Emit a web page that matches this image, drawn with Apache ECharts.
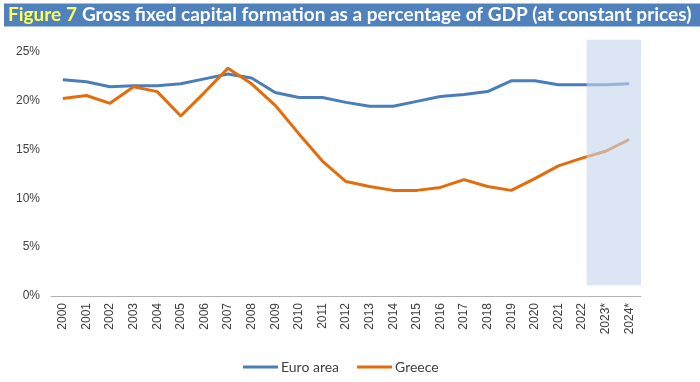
<!DOCTYPE html>
<html>
<head>
<meta charset="utf-8">
<script src="https://cdn.jsdelivr.net/npm/echarts@6/dist/echarts.min.js"></script>
<style>
html,body{margin:0;padding:0;background:#fff;}
#chart{width:700px;height:382px;}
</style>
</head>
<body>
<div id="chart"></div>
<script>
const years = ['2000','2001','2002','2003','2004','2005','2006','2007','2008','2009','2010','2011','2012','2013','2014','2015','2016','2017','2018','2019','2020','2021','2022','2023*','2024*'];
const euroArea = [22.1,21.9,21.4,21.5,21.5,21.7,22.2,22.7,22.3,20.8,20.3,20.3,19.8,19.4,19.4,19.9,20.4,20.6,20.9,22.0,22.0,21.6,21.6,21.6,21.7];
const greece = [20.2,20.5,19.7,21.4,20.9,18.4,20.8,23.3,21.7,19.5,16.6,13.8,11.7,11.2,10.8,10.8,11.1,11.9,11.2,10.8,12.0,13.3,14.1,14.8,16.0];
const yTicks = [0,5,10,15,20,25];
const shadeX = [22.2, 24.5];
const shadeY = [1.1, 26.2];

const chart = echarts.init(document.getElementById('chart'), null, {renderer:'canvas'});
chart.setOption({
  animation:false,
  backgroundColor:'#fff',
  title:{
    text:'{a|Figure 7} {b|Gross fixed capital formation as a percentage of GDP (at constant prices)}',
    left:4, top:3,
    backgroundColor:'#4F81BD',
    padding:[2,24,2,4],
    textStyle:{
      rich:{
        a:{color:'#FFFF5A',fontFamily:'Lato',fontWeight:'bold',fontSize:19,lineHeight:20},
        b:{color:'#ffffff',fontFamily:'Lato',fontWeight:'bold',fontSize:19,lineHeight:20}
      }
    }
  },
  grid:{left:51,right:59,top:296-26.2*9.78,bottom:86,containLabel:false},
  legend:{
    data:['Euro area','Greece'],
    bottom:3,left:238,
    itemWidth:35,itemHeight:3,itemGap:18,
    textStyle:{fontFamily:'Lato',fontSize:14,color:'#404040',padding:[0,0,0,-2]},
    icon:'rect'
  },
  xAxis:[{
    type:'category',data:years,boundaryGap:true,
    axisLine:{lineStyle:{color:'#B3B3B3',width:1}},
    axisTick:{show:false},
    axisLabel:{rotate:90,interval:0,fontFamily:'Liberation Sans',fontSize:12,color:'#404040',margin:7}
  },{
    type:'value',min:-0.5,max:24.5,show:false
  }],
  yAxis:{
    type:'value',min:0,max:26.2,interval:5,
    axisLine:{show:false},axisTick:{show:false},splitLine:{show:false},
    axisLabel:{
      showMaxLabel:false,
      fontFamily:'Liberation Sans',fontSize:12,color:'#404040',margin:11,
      formatter:function(v){return yTicks.indexOf(v)>=0 ? v+'%' : '';}
    }
  },
  series:[
    {name:'Euro area',type:'line',data:euroArea,symbol:'none',smooth:false,
     lineStyle:{color:'#4A7EBB',width:3},itemStyle:{color:'#4A7EBB'},z:2},
    {name:'Greece',type:'line',data:greece,symbol:'none',
     lineStyle:{color:'#E46C0A',width:3},itemStyle:{color:'#E46C0A'},z:2},
    {name:'shade',type:'line',xAxisIndex:1,yAxisIndex:0,data:[],symbol:'none',z:10,
     markArea:{silent:true,z:10,itemStyle:{color:'rgba(197,213,236,0.62)'},
       data:[[{coord:[shadeX[0],shadeY[0]]},{coord:[shadeX[1],shadeY[1]]}]]}}
  ]
});
</script>
</body>
</html>
